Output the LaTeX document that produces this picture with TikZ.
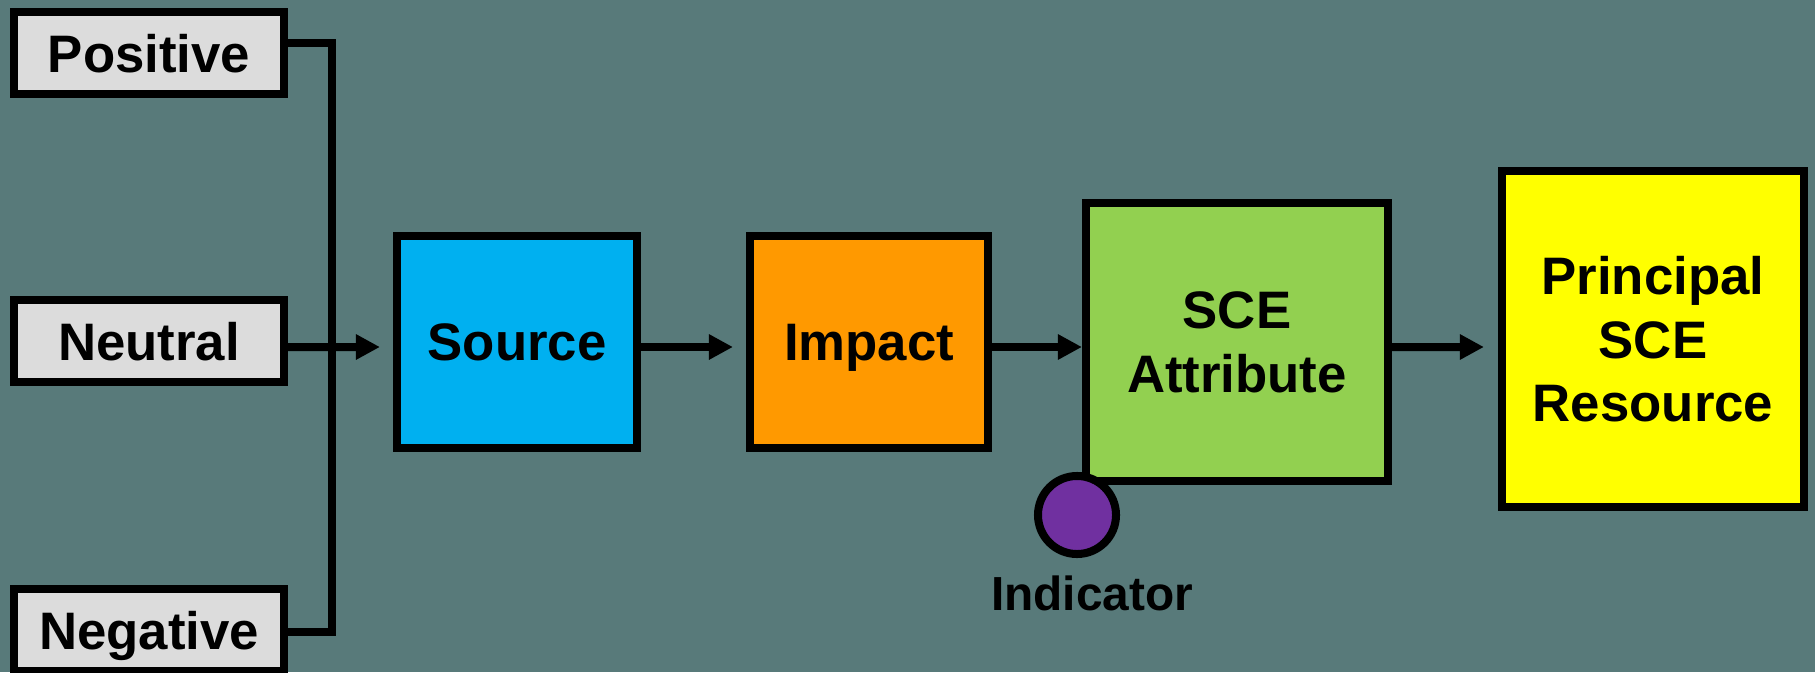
\documentclass[tikz,border=0pt]{standalone}
\usepackage{fontspec}
\setmainfont{Liberation Sans}
\usetikzlibrary{arrows.meta}
\definecolor{bgteal}{RGB}{88,122,122}
\definecolor{tagGray}{RGB}{220,220,220}
\definecolor{srcBlue}{RGB}{0,176,240}
\definecolor{impOrange}{RGB}{255,153,0}
\definecolor{attrGreen}{RGB}{146,208,80}
\definecolor{resYellow}{RGB}{255,255,0}
\definecolor{indPurple}{RGB}{112,48,160}

\begin{document}
\begin{tikzpicture}[x=0.01cm,y=0.01cm,
  txt/.style={font=\bfseries\fontsize{15}{18}\selectfont},
  tag/.style={txt, draw, line width=0.08cm, fill=tagGray, minimum width=2.70cm, minimum height=0.82cm, inner sep=0pt, text depth=0pt},
  block/.style={txt, draw, line width=0.08cm, align=center, inner sep=0pt, text depth=0pt},
  wire/.style={line width=0.08cm},
  arr/.style={wire, -{Triangle[length=0.24cm,width=0.24cm]}}]
 \fill[bgteal] (0,0) rectangle (1815,672); %背景
 \useasboundingbox (0,0) rectangle (1815,672);
 \node[tag] (pos) at (149,619) {Positive}; %正
 \node[tag] (neu) at (149,331) {Neutral}; %中立
 \node[tag] (neg) at (149,42) {Negative}; %負
 \node[block, fill=srcBlue, minimum width=2.40cm, minimum height=2.12cm] (src) at (517,330) {Source}; %源
 \node[block, fill=impOrange, minimum width=2.38cm, minimum height=2.12cm] (imp) at (869,330) {Impact}; %影響
 \node[block, fill=attrGreen, minimum width=3.02cm, minimum height=2.77cm] (attr) at (1237,330) {SCE\\Attribute}; %属性
 \node[block, fill=resYellow, minimum width=3.02cm, minimum height=3.36cm] (res) at (1653,333) {Principal\\SCE\\Resource}; %資源
 \node[circle, draw, line width=0.08cm, fill=indPurple, minimum size=0.78cm, inner sep=0pt] (ind) at (1077,157) {}; %指標
 \node[font=\bfseries\fontsize{13.6}{16}\selectfont] (indtxt) at (1092,79) {Indicator};
 \coordinate (jn) at (332,325); %合流点
 \draw[wire] ([yshift=0.10cm]pos.east) -| (jn) |- ([yshift=-0.02cm]neg.east);
 \draw[arr, shorten >=0.13cm] ([yshift=-0.06cm]neu.east) -- ([yshift=-0.05cm]src.west);
 \draw[arr, shorten >=0.13cm] ([yshift=-0.05cm]src.east) -- ([yshift=-0.05cm]imp.west);
 \draw[arr] ([yshift=-0.05cm]imp.east) -- ([yshift=-0.05cm]attr.west);
 \draw[arr, shorten >=0.14cm] ([yshift=-0.05cm]attr.east) -- ([yshift=-0.08cm]res.west);
\end{tikzpicture}
\end{document}
